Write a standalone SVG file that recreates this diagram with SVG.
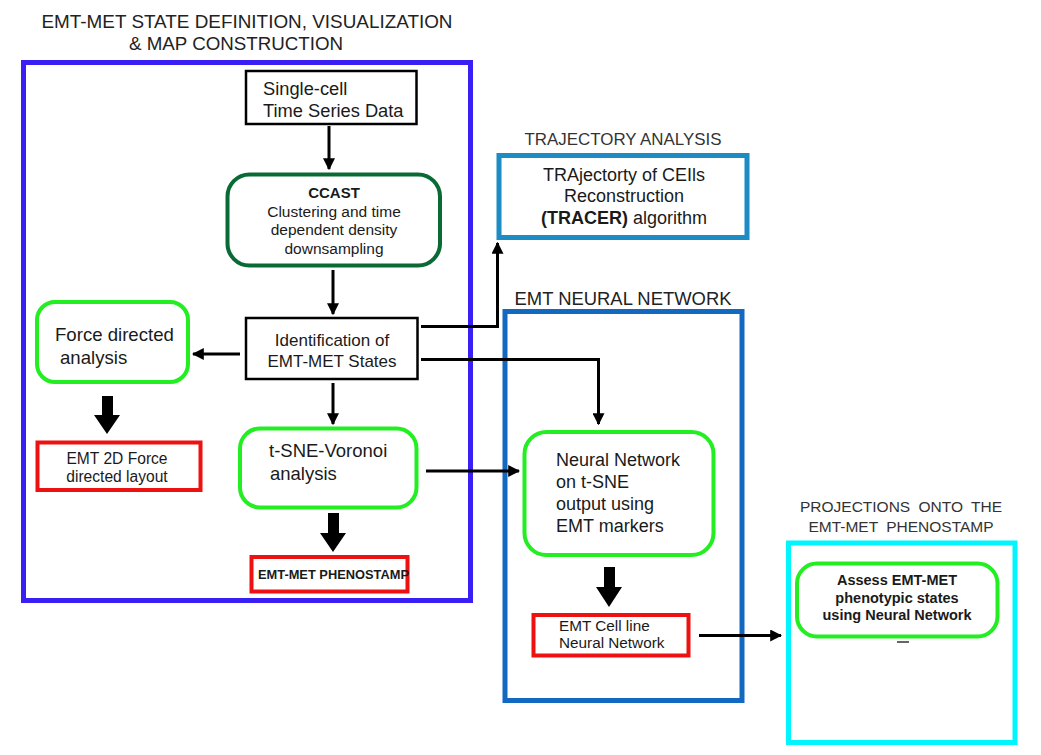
<svg xmlns="http://www.w3.org/2000/svg" width="1041" height="755" viewBox="0 0 1041 755">
<defs>
<marker id="ah" viewBox="0 0 10 10" refX="9" refY="5" markerWidth="4" markerHeight="4" orient="auto" markerUnits="strokeWidth">
<path d="M0,0 L10,5 L0,10 z" fill="#000"/>
</marker>
<style>
text{font-family:"Liberation Sans",Arial,sans-serif;fill:#1a1a1a}
.title{font-size:18.5px;fill:#222}
.sub{font-size:16.5px;fill:#333}
.green{fill:#fff;stroke:#22ee22;stroke-width:4}
.red{fill:#fff;stroke:#ee1111;stroke-width:4}
.blk{fill:#fff;stroke:#000;stroke-width:2.5}
.thin{fill:none;stroke:#000;stroke-width:3;marker-end:url(#ah)}
.fat{fill:#000}
</style>
</defs>
<rect width="1041" height="755" fill="#fff"/>

<g id="containers">
<text class="title" x="247" y="28" text-anchor="middle" textLength="411" lengthAdjust="spacingAndGlyphs">EMT-MET STATE DEFINITION, VISUALIZATION</text>
<text class="title" x="236" y="50" text-anchor="middle" textLength="214" lengthAdjust="spacingAndGlyphs">&amp; MAP CONSTRUCTION</text>
<rect x="23.5" y="62.5" width="447" height="538" fill="none" stroke="#3a1ff5" stroke-width="5"/>
<text class="sub" x="623" y="145" text-anchor="middle" textLength="197" lengthAdjust="spacingAndGlyphs">TRAJECTORY ANALYSIS</text>
<text class="title" x="623" y="305" text-anchor="middle" textLength="217" lengthAdjust="spacingAndGlyphs">EMT NEURAL NETWORK</text>
<rect x="505" y="311.5" width="237" height="389" fill="none" stroke="#1369c0" stroke-width="5"/>
<text class="sub" x="901" y="512" text-anchor="middle" style="font-size:15.5px" word-spacing="4">PROJECTIONS ONTO THE</text>
<text class="sub" x="901" y="532" text-anchor="middle" style="font-size:15.5px" word-spacing="4">EMT-MET PHENOSTAMP</text>
<rect x="788.5" y="543" width="226.5" height="199.5" fill="none" stroke="#00f5ff" stroke-width="5"/>
</g>

<g id="single-cell">
<rect class="blk" x="246" y="71" width="170.5" height="53"/>
<text x="263" y="95" style="font-size:18.3px">Single-cell</text>
<text x="263" y="117" style="font-size:18.3px">Time Series Data</text>
</g>

<g id="ccast">
<rect x="227.5" y="174.5" width="212.5" height="91" rx="22" fill="#fff" stroke="#0a6a36" stroke-width="4"/>
<text x="334" y="198" text-anchor="middle" style="font-size:15px;font-weight:bold">CCAST</text>
<text x="334" y="217" text-anchor="middle" style="font-size:15.5px">Clustering and time</text>
<text x="334" y="235" text-anchor="middle" style="font-size:15.5px">dependent density</text>
<text x="334" y="254" text-anchor="middle" style="font-size:15.5px">downsampling</text>
</g>

<g id="identification">
<rect class="blk" x="246" y="318" width="171.5" height="61"/>
<text x="332" y="346" text-anchor="middle" style="font-size:17px">Identification of</text>
<text x="332" y="367" text-anchor="middle" style="font-size:17px">EMT-MET States</text>
</g>

<g id="force-directed">
<rect class="green" x="37" y="302" width="151" height="80" rx="18"/>
<text x="55" y="341" style="font-size:18.6px">Force directed</text>
<text x="60" y="364" style="font-size:18.6px">analysis</text>
</g>

<g id="force-layout">
<rect class="red" x="37.5" y="442.5" width="163" height="47.5"/>
<text x="117" y="464" text-anchor="middle" style="font-size:15.6px">EMT 2D Force</text>
<text x="117" y="482" text-anchor="middle" style="font-size:15.6px">directed layout</text>
</g>

<g id="tsne">
<rect class="green" x="240" y="428.5" width="176.5" height="79" rx="20"/>
<text x="269" y="457" style="font-size:18.5px">t-SNE-Voronoi</text>
<text x="270" y="480" style="font-size:18.5px">analysis</text>
</g>

<g id="phenostamp">
<rect class="red" x="251.5" y="557" width="156" height="34.5"/>
<text x="258" y="579" textLength="151" lengthAdjust="spacingAndGlyphs" style="font-size:13px;font-weight:bold">EMT-MET PHENOSTAMP</text>
</g>

<g id="tracer">
<rect x="499" y="155.5" width="248" height="82" fill="#fff" stroke="#1d8bc4" stroke-width="5"/>
<text x="624" y="181" text-anchor="middle" style="font-size:18px">TRAjectorty of CEIls</text>
<text x="624" y="202" text-anchor="middle" style="font-size:18px">Reconstruction</text>
<text x="624" y="224" text-anchor="middle" style="font-size:18px"><tspan font-weight="bold">(TRACER)</tspan> algorithm</text>
</g>

<g id="neural-network">
<rect class="green" x="524.5" y="432" width="189" height="123" rx="22"/>
<text x="556" y="466" style="font-size:18px">Neural Network</text>
<text x="556" y="488" style="font-size:18px">on t-SNE</text>
<text x="556" y="510" style="font-size:18px">output using</text>
<text x="556" y="532" style="font-size:18px">EMT markers</text>
</g>

<g id="cell-line">
<rect class="red" x="533.5" y="615" width="155" height="40.5"/>
<text x="559" y="631" style="font-size:15.3px">EMT Cell line</text>
<text x="559" y="648" style="font-size:15.3px">Neural Network</text>
</g>

<g id="assess">
<rect class="green" x="797" y="563.5" width="200.5" height="73" rx="20"/>
<text x="897" y="585" text-anchor="middle" style="font-size:14.5px;font-weight:bold">Assess EMT-MET</text>
<text x="897" y="603" text-anchor="middle" style="font-size:14.5px;font-weight:bold">phenotypic states</text>
<text x="897" y="620" text-anchor="middle" style="font-size:14.5px;font-weight:bold">using Neural Network</text>
<line x1="897" y1="642" x2="909" y2="642" stroke="#333" stroke-width="1.5"/>
</g>

<g id="connectors">
<line class="thin" x1="329" y1="126" x2="329" y2="169"/>
<line class="thin" x1="333" y1="270" x2="333" y2="314"/>
<line class="thin" x1="240" y1="354" x2="193" y2="354"/>
<line class="thin" x1="333" y1="383" x2="333" y2="424"/>
<polyline class="thin" points="421,326.5 497.5,326.5 497.5,243"/>
<polyline class="thin" points="421,359.5 598.5,359.5 598.5,424"/>
<line class="thin" x1="426" y1="471" x2="519" y2="471"/>
<line class="thin" x1="699" y1="635.5" x2="781" y2="635.5"/>
<path class="fat" d="M102,396 h11 v19 h7 l-13,19 l-13,-19 h8 z"/>
<path class="fat" d="M328,513 h11 v20 h7 l-13,19 l-13,-19 h8 z"/>
<path class="fat" d="M604,567 h11 v20 h7 l-13,20 l-13,-20 h8 z"/>
</g>
</svg>
